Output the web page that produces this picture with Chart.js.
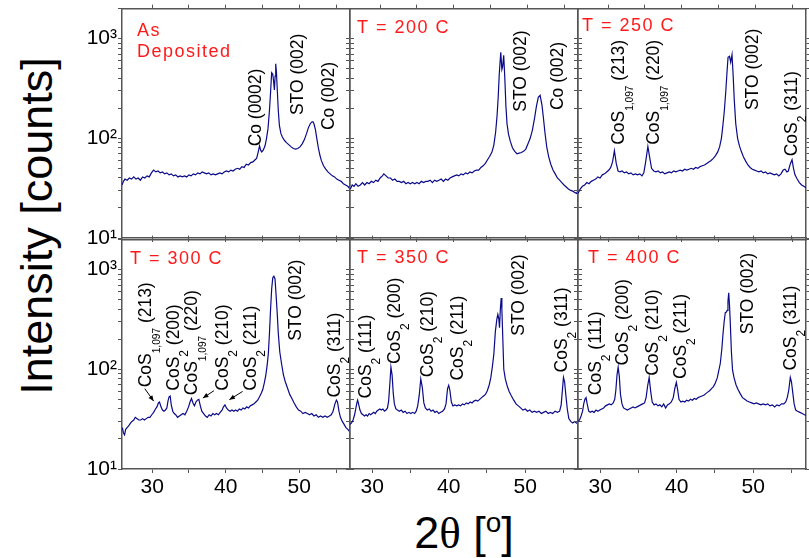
<!DOCTYPE html>
<html>
<head>
<meta charset="utf-8">
<script src="https://cdn.jsdelivr.net/npm/chart.js@4.4.1/dist/chart.umd.min.js"></script>
<style>
  html, body { margin: 0; padding: 0; background: #fff; }
  #wrap { position: relative; width: 809px; height: 558px; overflow: hidden; font-family: "Liberation Sans", Arial, sans-serif; }
  canvas { position: absolute; }
  .ytitle { position: absolute; left: 36px; top: 226px; font-size: 45px; line-height: 1; white-space: nowrap; transform: translate(-50%, -50%) rotate(-90deg); }
  .xtitle { position: absolute; left: 464px; top: 510px; font-size: 45px; line-height: 1; white-space: nowrap; transform: translateX(-50%); }
</style>
</head>
<body>
<div id="wrap">
  <div class="ytitle">Intensity [counts]</div>
  <div class="xtitle">2<span style="font-family:'Liberation Serif',serif">θ</span> [<span style="font-size:28px;position:relative;top:-16px">o</span>]</div>
</div>
<script>
// axis ranges
const topRange = [25.9, 56.9];
const lowRange = [27.1, 56.9];   // lower row, columns 2 and 3
const yRange = [10, 2000];
const xTicks = [30, 35, 40, 45, 50, 55];
const yTicks = [10, 20, 30, 40, 50, 60, 70, 80, 90, 100, 200, 300, 400, 500, 600, 700, 800, 900, 1000, 2000];
const yLabels = { 10: '10¹', 100: '10²', 1000: '10³' };

// scans, [2theta, counts]
const asDep = [[25.9,34],[26.1,37],[26.3,39],[26.6,38],[26.9,40],[27.2,39],[27.5,41],[27.8,39],[28.1,40],[28.4,38],
  [28.7,41],[29.0,40],[29.3,42],[29.6,41],[29.9,45],[30.2,48],[30.5,46],[30.8,47],[31.1,45],[31.4,46],[31.7,44],
  [32.0,45],[32.3,43],[32.6,44],[32.9,42],[33.2,43],[33.5,41],[33.8,42],[34.1,41],[34.4,42],[34.7,41],[35.0,43],
  [35.3,42],[35.6,44],[35.9,43],[36.2,45],[36.5,44],[36.8,46],[37.1,45],[37.4,44],[37.7,45],[38.0,43],[38.3,44],
  [38.6,43],[38.9,44],[39.2,45],[39.5,44],[39.8,46],[40.1,47],[40.4,46],[40.7,48],[41.0,47],[41.3,49],[41.6,50],
  [41.9,49],[42.2,52],[42.5,51],[42.8,55],[43.1,54],[43.4,57],[43.7,58],[44.0,61],[44.2,63],[44.4,72],[44.6,84],
  [44.75,76],[44.9,73],[45.1,76],[45.35,84],[45.55,100],[45.75,125],[45.95,190],[46.1,290],[46.25,455],[46.4,440],
  [46.5,380],[46.62,305],[46.72,420],[46.8,560],[46.9,460],[47.0,320],[47.15,190],[47.3,135],[47.5,112],[47.7,103],
  [48.0,95],[48.3,90],[48.6,86],[48.9,82],[49.2,79],[49.5,78],[49.8,79],[50.1,82],[50.4,88],[50.7,97],[51.0,112],
  [51.25,128],[51.5,140],[51.7,146],[51.85,147],[52.0,140],[52.2,122],[52.4,98],[52.6,80],[52.8,68],[53.0,60],
  [53.3,53],[53.6,49],[53.9,46],[54.2,44],[54.5,42],[54.8,41],[55.1,39],[55.4,38],[55.7,37],[56.0,35],[56.3,34],
  [56.6,33],[56.9,31]];

const t200 = [[25.95,31],[26.2,34],[26.45,33],[26.7,35],[27.0,33],[27.3,34],[27.6,36],[27.9,34],[28.2,36],[28.5,35],
  [28.8,37],[29.1,36],[29.4,38],[29.7,37],[30.0,40],[30.3,42],[30.5,44],[30.8,42],[31.1,40],[31.4,40],[31.7,38],
  [32.0,39],[32.3,37],[32.6,37],[32.9,36],[33.2,37],[33.5,35],[33.8,36],[34.1,35],[34.4,36],[34.7,35],[35.0,36],
  [35.3,35],[35.6,37],[35.9,36],[36.2,37],[36.5,37],[36.8,38],[37.1,36],[37.4,38],[37.7,37],[38.0,38],[38.3,39],
  [38.6,37],[38.9,39],[39.2,38],[39.5,40],[39.8,41],[40.1,42],[40.4,43],[40.7,42],[41.0,44],[41.3,43],[41.6,45],
  [41.9,44],[42.2,46],[42.5,45],[42.8,47],[43.1,48],[43.4,48],[43.7,51],[44.0,53],[44.3,56],[44.6,61],[44.9,66],
  [45.2,73],[45.45,85],[45.7,115],[45.9,170],[46.05,260],[46.2,450],[46.4,728],[46.55,490],[46.65,520],[46.8,680],
  [46.95,400],[47.1,210],[47.25,140],[47.45,110],[47.7,93],[48.0,80],[48.3,74],[48.6,70],[48.9,71],[49.2,72],
  [49.5,74],[49.8,78],[50.1,88],[50.4,100],[50.7,121],[51.0,160],[51.25,210],[51.5,258],[51.75,270],[52.0,215],
  [52.2,160],[52.4,115],[52.65,82],[52.9,66],[53.2,55],[53.5,48],[53.8,44],[54.1,40],[54.4,38],[54.7,36],[55.0,34],
  [55.3,32.5],[55.6,31],[55.9,30],[56.2,29.5],[56.5,28.5],[56.7,28],[56.9,30]];

const t250 = [[25.9,28],[26.2,31],[26.5,33],[26.8,34],[27.1,36],[27.4,35],[27.7,37],[28.0,38],[28.3,39],[28.6,41],
  [28.9,40],[29.2,43],[29.5,44],[29.8,46],[30.1,48],[30.35,51],[30.6,58],[30.85,75],[31.1,56],[31.35,47],[31.6,46],
  [31.9,47],[32.2,45],[32.5,46],[32.8,44],[33.1,45],[33.4,43],[33.7,44],[34.0,43],[34.3,44],[34.6,42],[34.85,45],
  [35.1,58],[35.4,83],[35.65,64],[35.9,50],[36.2,47],[36.5,46],[36.8,47],[37.1,45],[37.4,46],[37.7,44],[38.0,45],
  [38.3,46],[38.6,45],[38.9,47],[39.2,46],[39.5,47],[39.8,48],[40.1,47],[40.4,49],[40.7,48],[41.0,49],[41.3,50],
  [41.6,49],[41.9,51],[42.2,50],[42.5,52],[42.8,53],[43.1,54],[43.4,56],[43.7,58],[44.0,60],[44.3,63],[44.6,67],
  [44.9,73],[45.15,82],[45.4,100],[45.6,135],[45.8,190],[46.0,300],[46.15,450],[46.3,650],[46.5,665],[46.66,580],
  [46.84,690],[47.0,420],[47.15,240],[47.35,140],[47.6,100],[47.85,84],[48.1,74],[48.4,65],[48.7,59],[49.0,54],
  [49.3,51],[49.6,49],[49.9,48],[50.2,47],[50.5,46],[50.8,47],[51.1,45],[51.4,46],[51.7,44],[52.0,45],[52.3,44],
  [52.6,43],[52.9,44],[53.2,42],[53.5,44],[53.8,48],[54.05,49],[54.3,46],[54.5,47],[54.75,55],[55.0,61],[55.2,50],
  [55.4,43],[55.7,39],[56.0,36],[56.3,34],[56.6,33],[56.9,32]];

const t300 = [[25.95,26],[26.1,23],[26.25,22],[26.4,25],[26.6,26],[26.8,27],[27.0,28.5],[27.25,30],[27.5,31],[27.7,33],
  [27.95,32],[28.2,31],[28.45,31],[28.7,32],[28.95,31],[29.2,32],[29.45,33],[29.7,33],[29.95,35],[30.2,37],[30.45,40],
  [30.65,42],[30.85,46],[31.0,47],[31.2,42],[31.4,39],[31.6,38],[31.8,39],[32.0,41],[32.15,48],[32.3,53],[32.45,54],
  [32.6,44],[32.8,38],[33.0,36],[33.2,35],[33.45,33],[33.7,34],[33.95,35],[34.2,36],[34.45,35],[34.7,38],[34.95,42],
  [35.15,47],[35.35,51],[35.55,46],[35.75,43],[35.95,47],[36.15,49],[36.35,50],[36.55,43],[36.75,38],[37.0,36],
  [37.25,34],[37.5,33],[37.75,35],[38.0,34],[38.25,36],[38.5,35],[38.75,36],[39.0,35],[39.25,37],[39.5,39],[39.7,42],
  [39.9,44],[40.1,41],[40.35,39],[40.6,38],[40.85,39],[41.1,38],[41.35,39],[41.6,38],[41.85,40],[42.1,39],[42.35,41],
  [42.6,40],[42.85,42],[43.1,41],[43.35,43],[43.6,44],[43.85,45],[44.1,47],[44.35,49],[44.6,53],[44.85,58],[45.05,63],
  [45.25,73],[45.45,87],[45.65,112],[45.8,145],[45.95,230],[46.1,400],[46.25,640],[46.4,830],[46.55,860],[46.7,810],
  [46.85,560],[47.0,370],[47.15,230],[47.35,150],[47.6,113],[47.85,88],[48.1,75],[48.4,65],[48.7,56],[49.0,51],
  [49.3,46],[49.6,42],[49.9,39],[50.2,38],[50.5,36],[50.8,37],[51.1,36],[51.4,35],[51.7,36],[52.0,34],[52.3,35],
  [52.6,33],[52.9,34],[53.2,33],[53.5,34],[53.8,33],[54.1,34],[54.35,35],[54.6,38],[54.85,45],[55.05,49],[55.2,47],
  [55.4,38],[55.6,33],[55.85,30],[56.1,28],[56.35,26],[56.6,25],[56.9,23.5]];

const t350 = [[27.1,28],[27.3,29],[27.5,31],[27.7,35],[27.85,40],[28.0,46],[28.1,49],[28.25,44],[28.4,39],[28.6,36],
  [28.8,35],[29.0,34],[29.2,35],[29.4,34],[29.6,36],[29.8,35],[30.0,36],[30.2,37],[30.4,36],[30.6,38],[30.8,39],
  [31.0,40],[31.2,39],[31.4,40],[31.6,38],[31.8,39],[32.0,41],[32.15,48],[32.3,70],[32.45,105],[32.6,88],[32.75,58],
  [32.9,45],[33.1,40],[33.3,39],[33.55,38],[33.8,39],[34.05,37],[34.3,38],[34.55,36],[34.8,37],[35.05,36],[35.3,37],
  [35.55,36],[35.75,38],[35.95,43],[36.15,55],[36.35,80],[36.55,66],[36.75,46],[36.95,41],[37.2,39],[37.45,40],
  [37.7,38],[37.95,39],[38.2,37],[38.45,38],[38.7,36],[38.95,37],[39.2,38],[39.45,40],[39.65,45],[39.85,64],[40.0,69],
  [40.15,62],[40.35,47],[40.55,43],[40.8,44],[41.05,43],[41.3,44],[41.55,43],[41.8,45],[42.05,44],[42.3,46],[42.55,45],
  [42.8,47],[43.05,46],[43.3,48],[43.55,49],[43.8,48],[44.05,50],[44.3,52],[44.55,54],[44.8,56],[45.05,61],[45.3,70],
  [45.5,82],[45.7,105],[45.9,142],[46.1,240],[46.3,320],[46.42,355],[46.55,320],[46.64,262],[46.75,400],[46.86,520],
  [46.95,400],[47.05,230],[47.2,100],[47.4,80],[47.65,68],[47.9,60],[48.2,54],[48.5,49],[48.8,45],[49.1,43],[49.4,41],
  [49.7,39],[50.0,40],[50.3,38],[50.6,39],[50.9,37],[51.2,38],[51.5,37],[51.8,38],[52.1,36],[52.4,37],[52.7,38],
  [53.0,36],[53.3,37],[53.6,36],[53.9,38],[54.2,37],[54.5,38],[54.7,44],[54.85,60],[55.0,83],[55.15,75],[55.3,56],
  [55.5,40],[55.7,32],[55.95,30],[56.2,29],[56.45,30],[56.7,29],[56.9,28]];

const t400 = [[27.1,30],[27.3,31],[27.5,34],[27.7,38],[27.85,45],[28.0,50],[28.15,52],[28.3,45],[28.5,38],[28.7,37],
  [28.95,38],[29.2,37],[29.45,39],[29.7,38],[29.95,39],[30.2,40],[30.45,41],[30.7,43],[30.95,44],[31.2,45],[31.45,44],
  [31.7,46],[31.9,50],[32.05,62],[32.2,88],[32.35,105],[32.5,85],[32.65,56],[32.85,45],[33.05,41],[33.3,40],[33.55,39],
  [33.8,40],[34.05,41],[34.3,42],[34.55,41],[34.8,42],[35.05,43],[35.3,44],[35.55,45],[35.8,46],[36.0,52],[36.2,68],
  [36.4,83],[36.6,60],[36.8,47],[37.05,44],[37.3,45],[37.55,43],[37.8,44],[38.05,42],[38.3,45],[38.55,41],[38.8,44],
  [39.05,45],[39.3,47],[39.55,52],[39.75,64],[39.95,74],[40.1,64],[40.3,50],[40.55,47],[40.8,48],[41.05,47],[41.3,49],
  [41.55,48],[41.8,50],[42.05,49],[42.3,51],[42.55,50],[42.8,52],[43.05,53],[43.3,54],[43.55,55],[43.8,57],[44.05,59],
  [44.3,61],[44.55,64],[44.8,67],[45.05,73],[45.3,82],[45.5,97],[45.7,115],[45.9,160],[46.05,225],[46.2,300],[46.35,370],
  [46.5,375],[46.6,390],[46.7,480],[46.8,585],[46.9,440],[47.0,300],[47.15,150],[47.3,98],[47.5,82],[47.75,70],[48.0,63],
  [48.3,57],[48.6,52],[48.9,50],[49.2,48],[49.5,47],[49.8,46],[50.1,45],[50.4,46],[50.7,45],[51.0,44],[51.3,45],[51.6,44],
  [51.9,45],[52.2,43],[52.5,44],[52.8,42],[53.1,44],[53.4,43],[53.7,45],[54.0,45],[54.25,47],[54.45,52],[54.65,62],
  [54.85,83],[55.0,75],[55.15,60],[55.35,45],[55.55,39],[55.8,38],[56.1,37],[56.4,36],[56.7,35],[56.9,34.5]];

// peak labels: text, 2theta of the text column, counts where the text starts
const asDepPeaks = [{ t: 'Co (0002)', x: 43.8, y: 83 }, { t: 'STO (002)', x: 49.5, y: 171 }, { t: 'Co (002)', x: 53.8, y: 121 }];
const t200Peaks = [{ t: 'STO (002)', x: 48.9, y: 185 }, { t: 'Co (002)', x: 53.9, y: 192 }];
const t250Peaks = [{ t: 'CoS_{1,097} (213)', x: 31.25, y: 86 }, { t: 'CoS_{1,097} (220)', x: 36.0, y: 86 },
  { t: 'STO (002)', x: 49.4, y: 192 }, { t: 'CoS_2 (311)', x: 54.66, y: 66 }];
const t300Peaks = [{ t: 'CoS_{1,097} (213)', x: 28.85, y: 66 }, { t: 'CoS_2 (200)', x: 32.7, y: 61 },
  { t: 'CoS_{1,097} (220)', x: 35.2, y: 55 }, { t: 'CoS_2 (210)', x: 39.3, y: 61 }, { t: 'CoS_2 (211)', x: 43.2, y: 61 },
  { t: 'STO (002)', x: 49.3, y: 193 }, { t: 'CoS_2 (311)', x: 54.55, y: 52 }];
const t300Arrows = [{ from: [29.0, 64], to: [30.2, 48] }, { from: [38.4, 61], to: [36.9, 51.5] }, { from: [42.3, 60], to: [40.5, 49.6] }];
const t350Peaks = [{ t: 'CoS_2 (111)', x: 28.9, y: 51 }, { t: 'CoS_2 (200)', x: 32.7, y: 113 }, { t: 'CoS_2 (210)', x: 36.97, y: 83 },
  { t: 'CoS_2 (211)', x: 40.9, y: 77 }, { t: 'STO (002)', x: 48.96, y: 217 }, { t: 'CoS_2 (311)', x: 54.6, y: 93 }];
const t400Peaks = [{ t: 'CoS_2 (111)', x: 29.17, y: 55 }, { t: 'CoS_2 (200)', x: 32.75, y: 109 }, { t: 'CoS_2 (210)', x: 36.58, y: 86 },
  { t: 'CoS_2 (211)', x: 40.28, y: 80 }, { t: 'STO (002)', x: 49.0, y: 225 }, { t: 'CoS_2 (311)', x: 54.66, y: 97 }];

const panels = [
  { row: 0, col: 0, title: ['As', 'Deposited'], tx: 15, ty: 27, data: asDep, xr: topRange, peaks: asDepPeaks },
  { row: 0, col: 1, title: ['T = 200 C'], tx: 7, ty: 24, data: t200, xr: topRange, peaks: t200Peaks },
  { row: 0, col: 2, title: ['T = 250 C'], tx: 4, ty: 22, data: t250, xr: topRange, peaks: t250Peaks },
  { row: 1, col: 0, title: ['T = 300 C'], tx: 8, ty: 24, data: t300, xr: topRange, peaks: t300Peaks, arrows: t300Arrows },
  { row: 1, col: 1, title: ['T = 350 C'], tx: 7, ty: 23, data: t350, xr: lowRange, peaks: t350Peaks },
  { row: 1, col: 2, title: ['T = 400 C'], tx: 10, ty: 23, data: t400, xr: lowRange, peaks: t400Peaks }
];

const FONT = '"Liberation Sans", Arial, sans-serif';
const frame = '#555';
const colLeft = [122, 350, 578], rowTop = [7, 238];
const PW = 228, PH = 231, ML = 70, MR = 12, MT = 12, MB = 40;

// "CoS_2 (311)" -> [{t:'CoS'}, {t:'2', sub:true}, {t:' (311)'}]
function parse(s) {
  const out = [], re = /_\{([^}]*)\}|_(.)/g;
  let last = 0, m;
  while ((m = re.exec(s))) {
    if (m.index > last) out.push({ t: s.slice(last, m.index) });
    out.push({ t: m[1] || m[2], sub: true });
    last = re.lastIndex;
  }
  if (last < s.length) out.push({ t: s.slice(last) });
  return out;
}

const deco = {
  id: 'deco',
  afterDatasetsDraw(chart, args, o) {
    const { ctx, chartArea: a } = chart;
    const x = chart.scales.x, y = chart.scales.y;
    ctx.save();
    ctx.fillStyle = '#ff1a1a';
    ctx.font = '18px ' + FONT;
    ctx.letterSpacing = '1.5px';
    o.title.forEach((line, i) => ctx.fillText(line, a.left + o.tx, a.top + o.ty + i * 21));
    ctx.letterSpacing = '0px';

    ctx.fillStyle = '#000';
    o.peaks.forEach(p => {
      ctx.save();
      ctx.translate(x.getPixelForValue(p.x), y.getPixelForValue(p.y));
      ctx.rotate(-Math.PI / 2);
      ctx.scale(0.92, 1);
      let cx = 0;
      parse(p.t).forEach(s => {
        const size = s.sub ? (s.t.length > 1 ? 11 : 13) : 19;
        ctx.font = size + 'px ' + FONT;
        ctx.fillText(s.t, cx, s.sub ? 16 : 7);
        cx += ctx.measureText(s.t).width;
      });
      ctx.restore();
    });

    ctx.strokeStyle = '#000';
    ctx.lineWidth = 1;
    (o.arrows || []).forEach(ar => {
      const x0 = x.getPixelForValue(ar.from[0]), y0 = y.getPixelForValue(ar.from[1]);
      const x1 = x.getPixelForValue(ar.to[0]), y1 = y.getPixelForValue(ar.to[1]);
      const ang = Math.atan2(y1 - y0, x1 - x0);
      ctx.beginPath(); ctx.moveTo(x0, y0); ctx.lineTo(x1, y1); ctx.stroke();
      ctx.beginPath();
      ctx.moveTo(x1, y1);
      ctx.lineTo(x1 - 6 * Math.cos(ang - 0.4), y1 - 6 * Math.sin(ang - 0.4));
      ctx.lineTo(x1 - 6 * Math.cos(ang + 0.4), y1 - 6 * Math.sin(ang + 0.4));
      ctx.closePath(); ctx.fill();
    });
    ctx.restore();
  }
};

function xAxis(p, pos) {
  return {
    type: 'linear', position: pos, min: p.xr[0], max: p.xr[1],
    afterBuildTicks: s => { s.ticks = xTicks.map(v => ({ value: v })); },
    afterFit: s => { s.height = pos === 'bottom' ? MB : MT; },
    ticks: {
      display: pos === 'bottom', autoSkip: false, maxRotation: 0, padding: 2, color: '#000',
      font: { size: 21, family: FONT },
      callback: v => (p.row === 1 && v % 10 === 0) ? String(v) : ''
    },
    grid: { drawOnChartArea: false, tickLength: 4, color: frame, lineWidth: 1 },
    border: { display: true, color: frame, width: 1.5 }
  };
}

function yAxis(p, pos) {
  return {
    type: 'logarithmic', position: pos, min: yRange[0], max: yRange[1],
    afterBuildTicks: s => { s.ticks = yTicks.map(v => ({ value: v })); },
    afterFit: s => { s.width = pos === 'left' ? ML : MR; },
    ticks: {
      display: pos === 'left', autoSkip: false, padding: 1, color: '#000',
      font: { size: 21, family: FONT },
      callback: v => (p.col === 0 && yLabels[v]) ? yLabels[v] : ''
    },
    grid: { drawOnChartArea: false, tickLength: 4, color: frame, lineWidth: 1 },
    border: { display: true, color: frame, width: 1.5 }
  };
}

const wrap = document.getElementById('wrap');
panels.forEach(p => {
  const cv = document.createElement('canvas');
  cv.width = ML + PW + MR;
  cv.height = MT + PH + MB;
  cv.style.left = (colLeft[p.col] - ML) + 'px';
  cv.style.top = (rowTop[p.row] - MT) + 'px';
  wrap.appendChild(cv);

  new Chart(cv, {
    type: 'line',
    data: {
      datasets: [{
        data: p.data.map(([x, y]) => ({ x, y })),
        borderColor: '#0a0a88',
        borderWidth: 1.2,
        pointRadius: 0,
        tension: 0,
        xAxisID: 'x',
        yAxisID: 'y'
      }]
    },
    options: {
      responsive: false,
      animation: false,
      devicePixelRatio: 1,
      events: [],
      layout: { padding: 0 },
      scales: {
        x: xAxis(p, 'bottom'),
        xTop: xAxis(p, 'top'),
        y: yAxis(p, 'left'),
        yRight: yAxis(p, 'right')
      },
      plugins: {
        legend: { display: false },
        tooltip: { enabled: false },
        deco: { title: p.title, tx: p.tx, ty: p.ty, peaks: p.peaks, arrows: p.arrows }
      }
    },
    plugins: [deco]
  });
});
</script>
</body>
</html>
